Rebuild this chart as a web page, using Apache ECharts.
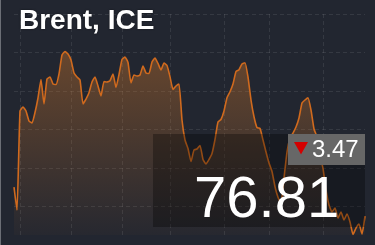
<!DOCTYPE html>
<html><head><meta charset="utf-8">
<script src="https://cdn.jsdelivr.net/npm/echarts@6/dist/echarts.min.js"></script>
<style>html,body{margin:0;padding:0;background:#222630;overflow:hidden}#c{width:375px;height:245px;}</style>
</head><body><div id="c"></div>
<script>
const titleText = 'Brent, ICE';
const lastPrice = '76.81';
const change = '3.47';
const brent = [
  79.40, 76.67, 88.45, 88.93, 88.45, 87.26, 87.02, 88.27, 90.00, 92.20,
  89.29, 92.26, 92.50, 91.67, 91.61, 92.86, 95.12, 95.54, 95.24, 94.52,
  92.98, 92.50, 92.14, 89.29, 89.88, 90.63, 91.90, 92.50, 91.43, 90.24,
  91.96, 91.90, 92.06, 92.86, 91.25, 92.80, 94.58, 94.88, 94.23, 91.79,
  92.74, 92.62, 92.74, 93.81, 92.98, 92.92, 94.29, 94.76, 94.11, 93.33,
  94.17, 93.87, 92.54, 91.01, 91.43, 91.67, 87.38, 85.00, 83.99, 82.44,
  83.81, 83.93, 84.35, 82.68, 82.14, 82.68, 83.39, 85.06, 87.14, 87.44,
  88.45, 90.04, 90.75, 91.67, 93.15, 93.37, 94.05, 94.20, 92.50, 89.76,
  87.77, 86.48, 86.38, 85.00, 83.57, 82.26, 81.25, 79.44, 78.18, 77.46,
  80.48, 83.57, 85.24, 85.83, 86.55, 87.62, 89.40, 89.76, 90.02, 88.57,
  86.31, 85.36, 83.21, 81.61, 79.05, 77.26, 76.43, 76.90, 75.71, 76.43,
  75.48, 76.19, 75.24, 73.75, 74.52, 75.00, 73.81, 75.95
];
const monthStarts = [2, 19, 36, 52, 70, 85, 103];
const days = brent.map((_, i) => 'd' + (i + 1));

const chart = echarts.init(document.getElementById('c'), null, {renderer: 'canvas'});
const dashed = {color: 'rgba(255,255,255,0.09)', type: [4, 3], width: 1};
chart.setOption({
  backgroundColor: '#222630',
  animation: false,
  grid: [
    {left: 14, top: 14, width: 351, height: 221},
    {left: 14, top: 14, width: 351, height: 252}
  ],
  xAxis: [
    {type: 'category', gridIndex: 0, data: days, boundaryGap: false,
     axisLine: {show: false}, axisTick: {show: false}, axisLabel: {show: false},
     splitLine: {show: true, interval: (i) => monthStarts.includes(i), lineStyle: dashed}, z: 3},
    {type: 'value', gridIndex: 1, show: false}
  ],
  yAxis: [
    {type: 'value', gridIndex: 0, min: 73.6905, max: 100, show: false},
    {type: 'value', gridIndex: 1, min: 0, max: 6, interval: 1, inverse: true,
     axisLine: {show: false}, axisTick: {show: false}, axisLabel: {show: false},
     splitLine: {show: true, lineStyle: dashed}, z: 3}
  ],
  series: [{
    type: 'line', xAxisIndex: 0, yAxisIndex: 0, data: brent,
    showSymbol: false, smooth: 0.15,
    lineStyle: {color: '#d06a1e', width: 1.6},
    areaStyle: {color: new echarts.graphic.LinearGradient(0, 0, 0, 1, [
      {offset: 0, color: 'rgba(214,122,42,0.55)'},
      {offset: 1, color: 'rgba(214,122,42,0.04)'}
    ])}
  }],
  graphic: [
    {type: 'rect', z: 10, shape: {x: 0, y: 0, width: 1, height: 245}, style: {fill: '#6b6e75'}},
    {type: 'rect', z: 10, shape: {x: 153, y: 134, width: 212, height: 93}, style: {fill: 'rgba(0,0,0,0.3)'}},
    {type: 'rect', z: 11, shape: {x: 288, y: 134, width: 77, height: 31}, style: {fill: '#676767'}},
    {type: 'polygon', z: 12, shape: {points: [[294, 142], [308, 142], [301, 154.5]]}, style: {fill: '#d40000'}},
    {type: 'text', z: 12, style: {x: 312, y: 150, text: change, fill: '#ffffff',
      font: '24px "Liberation Sans", Arial, sans-serif', textAlign: 'left', textVerticalAlign: 'middle'}},
    {type: 'text', z: 12, style: {x: 194, y: 201, text: lastPrice, fill: '#ffffff',
      font: '58px "Liberation Sans", Arial, sans-serif', textAlign: 'left', textVerticalAlign: 'middle'}},
    {type: 'text', z: 12, style: {x: 19, y: 21.5, text: titleText, fill: '#ffffff',
      font: 'bold 28px "Liberation Sans", Arial, sans-serif', textAlign: 'left', textVerticalAlign: 'middle',
      textShadowColor: 'rgba(0,0,0,0.6)', textShadowBlur: 2}}
  ]
});
</script></body></html>
